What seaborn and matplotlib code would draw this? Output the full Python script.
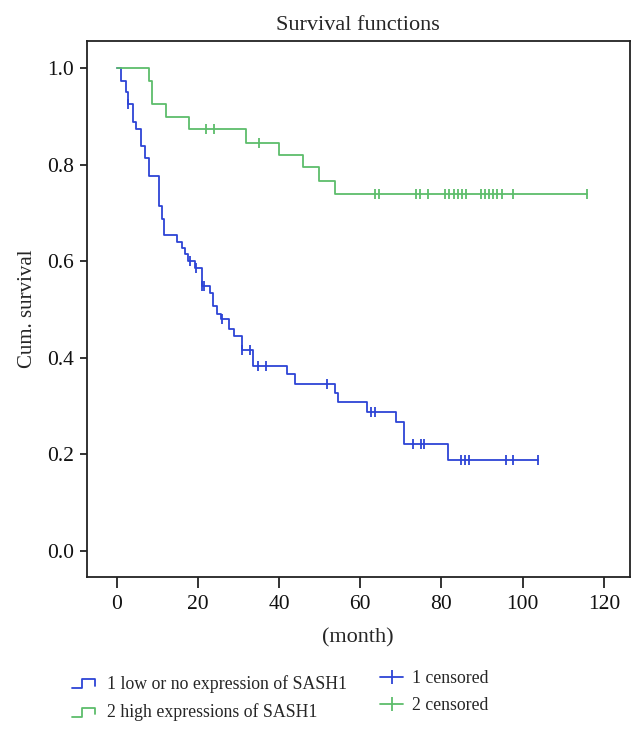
import numpy as np
import pandas as pd
import matplotlib
matplotlib.use("Agg")
import matplotlib.pyplot as plt
from matplotlib.lines import Line2D
from matplotlib.legend_handler import HandlerBase
import seaborn as sns

# ---------------- data ----------------
# group 1: low or no expression of SASH1
g1_step_times = [0, 1.1, 2.4, 2.9, 3.9, 4.7, 5.9, 7.0, 8.0, 10.3, 11.1, 11.7, 14.8,
                 16.0, 16.8, 17.6, 19.3, 20.9, 23.0, 23.8, 24.8, 25.6, 27.7, 28.9,
                 30.8, 33.65, 41.9, 43.9, 53.75, 54.6, 61.75, 68.8, 70.85, 81.6]
g1_step_surv = [1.0, 0.9745, 0.952, 0.927, 0.889, 0.875, 0.839, 0.815, 0.777, 0.715,
                0.689, 0.654, 0.640, 0.627, 0.616, 0.602, 0.587, 0.549, 0.535, 0.507,
                0.492, 0.480, 0.461, 0.445, 0.416, 0.384, 0.366, 0.346, 0.328, 0.3085,
                0.2885, 0.267, 0.221, 0.189]
g1_end = 103.8
g1_censored = [2.9, 18.0, 19.5, 20.9, 21.6, 25.9, 30.9, 32.8, 34.9, 36.8, 51.8,
               62.6, 63.7, 72.9, 74.9, 75.8, 84.8, 85.9, 86.9, 95.8, 97.7, 103.8]

# group 2: high expressions of SASH1
g2_step_times = [0, 8.0, 8.8, 12.1, 17.8, 31.8, 40.0, 45.8, 49.8, 53.85]
g2_step_surv = [1.0, 0.9745, 0.927, 0.899, 0.874, 0.846, 0.820, 0.796, 0.767, 0.7405]
g2_end = 115.8
g2_censored = [22.0, 24.0, 35.0, 63.6, 64.7, 73.7, 74.7, 76.8, 80.9, 81.9, 83.0, 84.0,
               85.0, 86.0, 89.7, 90.7, 91.7, 92.8, 93.75, 94.8, 97.7, 115.8]

labels = ["1 low or no expression of SASH1", "2 high expressions of SASH1"]
cens_labels = ["1 censored", "2 censored"]
title = "Survival functions"
xlabel = "(month)"
ylabel = "Cum. survival"
xticks = [0, 20, 40, 60, 80, 100, 120]
yticks = [0.0, 0.2, 0.4, 0.6, 0.8, 1.0]

BLUE = "#2d44d6"
GREEN = "#5dbd6b"

# ---------------- style ----------------
sns.set_style("white")
plt.rcParams["font.family"] = ["Liberation Serif", "DejaVu Serif"]
TICK_FS = 15.5
LABEL_FS = 16
LEG_FS = 12.8


def step_frame(times, surv, end):
    t = list(times) + [end]
    s = list(surv) + [surv[-1]]
    return pd.DataFrame({"time": t, "surv": s})


def cens_frame(times, surv, cens):
    t = np.asarray(times)
    s = np.asarray(surv)
    idx = np.searchsorted(t, cens, side="right") - 1
    return pd.DataFrame({"time": cens, "surv": s[idx]})


fig = plt.figure(figsize=(6.44, 7.36), dpi=100)
ax = fig.add_axes([0.1346, 0.216, 0.8434, 0.728])

for times, surv, end, cens, col in [
    (g1_step_times, g1_step_surv, g1_end, g1_censored, BLUE),
    (g2_step_times, g2_step_surv, g2_end, g2_censored, GREEN),
]:
    df = step_frame(times, surv, end)
    sns.lineplot(data=df, x="time", y="surv", ax=ax, color=col, linewidth=1.3,
                 drawstyle="steps-post", estimator=None, sort=False)
    cdf = cens_frame(times, surv, cens)
    sns.scatterplot(data=cdf, x="time", y="surv", ax=ax, marker="|", s=60,
                    color=col, linewidth=1.3, zorder=3)

ax.set_xlim(-7.4, 126.4)
ax.set_ylim(-0.054, 1.0565)
ax.set_xticks(xticks)
ax.set_yticks(yticks)
ax.set_yticklabels([f"{v:.1f}" for v in yticks])
ax.tick_params(axis="x", direction="out", length=8, width=1.2, labelsize=TICK_FS,
               bottom=True, pad=5, colors="#111111")
ax.tick_params(axis="y", direction="out", length=5, width=1.2, labelsize=TICK_FS,
               left=True, pad=4, colors="#111111")
for sp in ax.spines.values():
    sp.set_linewidth(1.3)
    sp.set_color("#222222")
ax.set_xlabel(xlabel, fontsize=LABEL_FS, labelpad=10)
ax.set_ylabel(ylabel, fontsize=LABEL_FS - 1, labelpad=7)
ax.set_title(title, fontsize=LABEL_FS, pad=8)


class StepHandler(HandlerBase):
    def create_artists(self, legend, orig_handle, xdescent, ydescent, width,
                       height, fontsize, trans):
        x0 = -xdescent
        y0 = -ydescent
        xs = [x0, x0 + width * 0.45, x0 + width * 0.45, x0 + width, x0 + width]
        ys = [y0 + height * 0.05, y0 + height * 0.05, y0 + height * 0.75,
              y0 + height * 0.75, y0 + height * 0.25]
        ln = Line2D(xs, ys, color=orig_handle.get_color(), linewidth=1.3,
                    transform=trans)
        return [ln]


h1 = Line2D([], [], color=BLUE)
h2 = Line2D([], [], color=GREEN)
leg1 = fig.legend([h1, h2], labels, loc="upper left",
                  bbox_to_anchor=(0.1118, 0.083), frameon=False, fontsize=LEG_FS,
                  handler_map={Line2D: StepHandler()}, handlelength=1.3,
                  handletextpad=0.65, labelspacing=0.6, borderpad=0,
                  borderaxespad=0)
c1 = Line2D([], [], color=BLUE, marker="|", markersize=10, linewidth=1.3,
            markeredgewidth=1.3)
c2 = Line2D([], [], color=GREEN, marker="|", markersize=10, linewidth=1.3,
            markeredgewidth=1.3)
leg2 = fig.legend([c1, c2], cens_labels, loc="upper left",
                  bbox_to_anchor=(0.590, 0.090), frameon=False, fontsize=LEG_FS,
                  handlelength=1.3, handletextpad=0.5, labelspacing=0.6,
                  borderpad=0, borderaxespad=0)

fig.savefig("out.png", dpi=100)
